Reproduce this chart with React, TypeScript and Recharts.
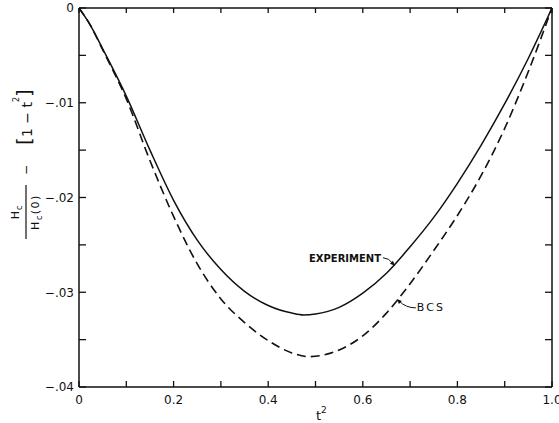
import React from 'react';
import { LineChart, Line, XAxis, YAxis, ReferenceDot } from 'recharts';

// t^2 values (x) for the experiment curve
const tExperiment = [0, 0.025, 0.05, 0.1, 0.15, 0.2, 0.25, 0.3, 0.35, 0.4, 0.45, 0.475, 0.5, 0.55, 0.6, 0.65, 0.7, 0.75, 0.8, 0.85, 0.9, 0.95, 1.0];
// Experiment curve: Hc/Hc(0) - [1 - t^2]
const experiment = [0, -0.0019, -0.0043, -0.0093, -0.0150, -0.0203, -0.0245, -0.0276, -0.0299, -0.0314, -0.0322, -0.0324, -0.0323, -0.0316, -0.0301, -0.0280, -0.0252, -0.0221, -0.0185, -0.0145, -0.0101, -0.0053, 0];

// t^2 values (x) for the BCS curve
const tBcs = [0, 0.025, 0.05, 0.1, 0.15, 0.2, 0.25, 0.3, 0.35, 0.4, 0.45, 0.485, 0.55, 0.6, 0.65, 0.7, 0.75, 0.8, 0.85, 0.9, 0.95, 1.0];
// BCS curve
const bcs = [0, -0.0019, -0.0044, -0.0096, -0.0161, -0.0220, -0.0270, -0.0307, -0.0332, -0.0351, -0.0364, -0.0368, -0.0361, -0.0346, -0.0322, -0.0291, -0.0256, -0.0219, -0.0177, -0.0127, -0.0067, 0];

const xTicks = [0, 0.1, 0.2, 0.3, 0.4, 0.5, 0.6, 0.7, 0.8, 0.9, 1.0];
const xTickLabels = ['0', '', '0.2', '', '0.4', '', '0.6', '', '0.8', '', '1.0'];
const yTicks = [0, -0.005, -0.01, -0.015, -0.02, -0.025, -0.03, -0.035, -0.04];
const yTickLabels = ['0', '', '\u2212.01', '', '\u2212.02', '', '\u2212.03', '', '\u2212.04'];

const experimentLabel = 'EXPERIMENT';
const bcsLabel = 'BCS';

const experimentData = tExperiment.map((t, i) => ({ t, v: experiment[i] }));
const bcsData = tBcs.map((t, i) => ({ t, v: bcs[i] }));

const INK = '#111';
const FONT = 'DejaVu Sans';

const fmtX = (v: number) => {
  const i = xTicks.findIndex((x) => Math.abs(x - v) < 1e-9);
  return i >= 0 ? xTickLabels[i] : '';
};
const fmtY = (v: number) => {
  const i = yTicks.findIndex((y) => Math.abs(y - v) < 1e-9);
  return i >= 0 ? yTickLabels[i] : '';
};
const blank = () => '';

const YLabel = () => (
  <g transform="translate(26,240) rotate(-90)" fontFamily={FONT} fill={INK}>
    <text x={28} y={-7} textAnchor="middle" fontSize={11} letterSpacing={1}>
      H<tspan fontSize={8} dy={3}>c</tspan>
    </text>
    <line x1={1} x2={55} y1={0} y2={0} stroke={INK} strokeWidth={1.2} />
    <text x={28} y={13} textAnchor="middle" fontSize={11} letterSpacing={1.5}>
      H<tspan fontSize={8} dy={3}>c</tspan>
      <tspan dy={-3} fontSize={11}>(0)</tspan>
    </text>
    <text x={70} y={4} textAnchor="middle" fontSize={12}>{'\u2212'}</text>
    <text x={123} y={5} textAnchor="middle" fontSize={14}>
      <tspan fontSize={20}>[</tspan>
      <tspan dy={1}>1 {'\u2212'} t</tspan>
      <tspan dy={-13} fontSize={8}>2</tspan>
      <tspan dy={12} fontSize={20}>]</tspan>
    </text>
  </g>
);

const XLabel = () => (
  <text x={316} y={420} fontFamily={FONT} fontSize={13} fill={INK}>
    t<tspan dy={-7} fontSize={9}>2</tspan>
  </text>
);

const ExperimentNote = (p: any) => {
  const { cx, cy } = p;
  return (
    <g>
      <text x={cx - 86} y={cy - 4} fontSize={10} fontWeight="bold" fontFamily={FONT} fill={INK}>
        {experimentLabel}
      </text>
      <path d={`M ${cx - 12} ${cy - 8} Q ${cx - 6} ${cy - 8} ${cx - 2} ${cy - 2}`} fill="none" stroke={INK} strokeWidth={1} />
      <path d={`M ${cx} ${cy} L ${cx - 5} ${cy - 2} L ${cx - 2} ${cy - 5} Z`} fill={INK} />
    </g>
  );
};

const BcsNote = (p: any) => {
  const { cx, cy } = p;
  return (
    <g>
      <text x={cx + 20} y={cy + 12} fontSize={11} letterSpacing={2} fontFamily={FONT} fill={INK}>
        {bcsLabel}
      </text>
      <path d={`M ${cx + 19} ${cy + 9} Q ${cx + 9} ${cy + 9} ${cx + 2} ${cy + 2}`} fill="none" stroke={INK} strokeWidth={1} />
      <path d={`M ${cx} ${cy} L ${cx + 5} ${cy + 2} L ${cx + 2} ${cy + 5} Z`} fill={INK} />
    </g>
  );
};

const tickStyle = { fill: INK, fontSize: 12, fontFamily: FONT };
const axisLineStyle = { stroke: INK, strokeWidth: 1.5 };
const tickLineStyle = { stroke: INK, strokeWidth: 1.3 };

export default function App() {
  return (
    <div style={{ position: 'absolute', left: 0, top: 0, width: 559, height: 423, background: '#fff' }}>
      <LineChart width={559} height={423} margin={{ top: 7, right: 6, bottom: 6, left: 0 }}>
        <XAxis
          xAxisId="b"
          dataKey="t"
          type="number"
          domain={[0, 1]}
          ticks={xTicks}
          interval={0}
          tickFormatter={fmtX}
          height={30}
          tickSize={-6}
          tickMargin={14}
          tick={tickStyle}
          axisLine={axisLineStyle}
          tickLine={tickLineStyle}
          allowDataOverflow
          label={{ content: () => <XLabel /> }}
        />
        <XAxis
          xAxisId="top"
          dataKey="t"
          orientation="top"
          type="number"
          domain={[0, 1]}
          ticks={xTicks}
          interval={0}
          tickFormatter={blank}
          height={1}
          tickSize={-5}
          tickMargin={0}
          axisLine={axisLineStyle}
          tickLine={tickLineStyle}
          allowDataOverflow
        />
        <YAxis
          yAxisId="l"
          dataKey="v"
          type="number"
          domain={[-0.04, 0]}
          ticks={yTicks}
          interval={0}
          tickFormatter={fmtY}
          width={79}
          tickSize={-7}
          tickMargin={12}
          tick={tickStyle}
          axisLine={axisLineStyle}
          tickLine={tickLineStyle}
          allowDataOverflow
          label={{ content: () => <YLabel /> }}
        />
        <YAxis
          yAxisId="r"
          dataKey="v"
          orientation="right"
          type="number"
          domain={[-0.04, 0]}
          ticks={yTicks}
          interval={0}
          tickFormatter={blank}
          width={1}
          tickSize={-7}
          tickMargin={0}
          axisLine={axisLineStyle}
          tickLine={tickLineStyle}
          allowDataOverflow
        />
        <Line
          xAxisId="b"
          yAxisId="l"
          data={bcsData}
          type="monotone"
          dataKey="v"
          stroke={INK}
          strokeWidth={1.6}
          strokeDasharray="9 5"
          dot={false}
          isAnimationActive={false}
        />
        <Line
          xAxisId="b"
          yAxisId="l"
          data={experimentData}
          type="monotone"
          dataKey="v"
          stroke={INK}
          strokeWidth={1.5}
          dot={false}
          isAnimationActive={false}
        />
        <ReferenceDot xAxisId="b" yAxisId="l" x={0.668} y={-0.0272} r={0} shape={ExperimentNote} />
        <ReferenceDot xAxisId="b" yAxisId="l" x={0.672} y={-0.0307} r={0} shape={BcsNote} />
      </LineChart>
    </div>
  );
}
